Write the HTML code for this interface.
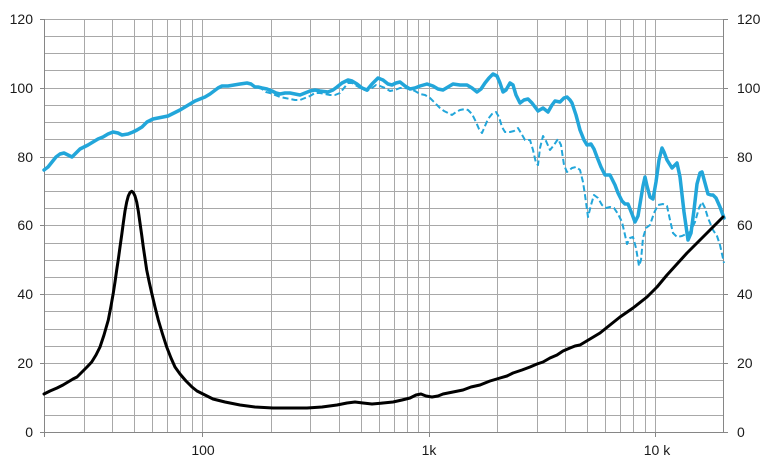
<!DOCTYPE html>
<html><head><meta charset="utf-8"><style>
html,body{margin:0;padding:0;background:#fff;}
svg{display:block;}
text{font-family:"Liberation Sans",Arial,sans-serif;font-size:14px;fill:#1a1a1a;}
</style></head><body>
<svg width="772" height="466" viewBox="0 0 772 466" xmlns="http://www.w3.org/2000/svg">
<g stroke="#a8a8a8" stroke-width="1" fill="none" shape-rendering="crispEdges">
<path d="M44 19.5H724M44 36.5H724M44 53.5H724M44 70.5H724M44 88.5H724M44 105.5H724M44 122.5H724M44 139.5H724M44 157.5H724M44 174.5H724M44 191.5H724M44 208.5H724M44 225.5H724M44 243.5H724M44 260.5H724M44 277.5H724M44 294.5H724M44 311.5H724M44 329.5H724M44 346.5H724M44 363.5H724M44 380.5H724M44 397.5H724M44 415.5H724"/>
<path d="M84.5 19V432M112.5 19V432M134.5 19V432M152.5 19V432M167.5 19V432M180.5 19V432M192.5 19V432M202.5 19V432M271.5 19V432M310.5 19V432M339.5 19V432M361.5 19V432M379.5 19V432M394.5 19V432M407.5 19V432M418.5 19V432M429.5 19V432M497.5 19V432M537.5 19V432M565.5 19V432M587.5 19V432M605.5 19V432M620.5 19V432M633.5 19V432M645.5 19V432M655.5 19V432"/>
</g>
<g stroke="#868686" stroke-width="1" fill="none" shape-rendering="crispEdges">
<path d="M44.5 19V437M723.5 19V432M44 432.5H724"/>
<path d="M40 19.5H44M40 88.5H44M40 157.5H44M40 225.5H44M40 294.5H44M40 363.5H44M40 432.5H44"/>
<path d="M724 19.5H728M724 88.5H728M724 157.5H728M724 225.5H728M724 294.5H728M724 363.5H728M724 432.5H728"/>
<path d="M202.5 432V437M429.5 432V437M655.5 432V437"/>
</g>
<g text-anchor="end">
<text x="33" y="24">120</text>
<text x="33" y="93">100</text>
<text x="33" y="162">80</text>
<text x="33" y="230">60</text>
<text x="33" y="299">40</text>
<text x="33" y="368">20</text>
<text x="33" y="437">0</text>
</g>
<g text-anchor="start">
<text x="737" y="24">120</text>
<text x="737" y="93">100</text>
<text x="737" y="162">80</text>
<text x="737" y="230">60</text>
<text x="737" y="299">40</text>
<text x="737" y="368">20</text>
<text x="737" y="437">0</text>
</g>
<g text-anchor="middle">
<text x="203" y="455">100</text>
<text x="429" y="455">1k</text>
<text x="657" y="455">10 k</text>
</g>
<polyline fill="none" stroke="#22a6da" stroke-width="2" stroke-dasharray="6,3" stroke-linejoin="round" points="258,87 262,89 266,92 270,93 275,95 280,97 285,98 290,99 295,100 300,100 305,98 310,96 315,93 320,93 325,94 330,95 335,95 340,93 344,88 348,83 352,83 357,86 362,89 367,91 372,88 376,85 380,86 385,88 390,91 395,90 400,88 405,88 410,89 415,91 420,94 425,95 430,98 435,103 440,108 444,111 448,113 452,115 456,112 460,110 465,109 468,110 472,114 476,122 479,129 482,133 485,126 488,119 492,114 496,112 499,117 502,127 505,132 510,132 514,131 518,128 521,133 525,140 530,140 533,150 536,163 538,165 540,148 543,136 546,141 550,150 554,145 558,139 561,145 564,165 567,172 572,168 576,167 580,170 583,182 585,195 588,217 591,205 594,195 598,198 602,205 606,208 610,207 614,208 618,214 622,222 625,235 627,244 630,238 633,237 636,248 639,266 641,260 643,238 646,228 650,225 654,213 658,205 663,204 667,206 670,220 673,233 677,237 682,236 686,234 690,232 695,222 699,208 702,202 705,208 708,218 713,230 717,236 720,245 724,263"/>
<polyline fill="none" stroke="#22a6da" stroke-width="3.5" stroke-linejoin="round" stroke-linecap="round" points="44,170 48,167 52,162 56,157 60,154 64,153 68,155 72,157 76,153 80,149 84,147 88,145 93,142 98,139 103,137 108,134 113,132 118,133 122,135 128,134 133,132 137,130 142,127 147,122 153,119 158,118 163,117 168,116 172,114 176,112 180,110 185,107 190,104 195,101 200,99 205,97 210,94 214,91 218,88 222,86 228,86 234,85 240,84 247,83 251,84 255,87 258,87 262,88 267,89 272,91 276,93 280,94 285,93 290,93 295,94 300,95 305,93 310,91 315,90 320,91 328,92 333,90 337,87 342,83 348,80 352,81 357,84 362,88 367,90 372,84 378,78 383,80 388,84 392,85 396,83 400,82 405,86 410,89 415,88 420,86 427,84 433,86 438,89 443,90 448,87 453,84 460,85 467,85 472,88 477,92 481,89 485,83 489,78 493,74 497,76 500,83 503,92 506,90 510,83 513,85 516,95 520,103 524,100 528,99 532,103 538,111 543,108 548,112 552,105 555,101 560,102 564,98 567,97 570,100 572,103 576,115 580,130 584,140 587,145 591,144 594,149 597,157 601,167 605,175 610,175 615,185 618,193 622,201 625,204 628,204 632,214 635,222 638,216 640,204 643,186 645,177 647,186 650,197 653,199 656,182 659,160 662,148 664,152 667,160 672,168 677,163 680,177 684,212 688,240 691,233 694,210 697,184 700,173 702,172 705,183 708,194 711,195 713,195 716,198 720,207 724,218"/>
<polyline fill="none" stroke="#000" stroke-width="3" stroke-linejoin="round" stroke-linecap="round" points="44,394 50,391 57,388 63,385 68,382 73,379 77,377 82,372 87,367 91.7,362 96,355 100,347 104,335 108.3,320 111,306 113.3,293 115,282 116.7,270 118.5,258 120,247 121.7,235 123.3,223 125,211 126.7,202 128.3,196 130,192.5 131.7,191.3 133.3,192.5 135,196 136.7,202 138.3,211 140,223 141.7,235 143.3,247 145,258.5 146.7,270 149.2,282 151.7,293 155,307 158.3,320 162.5,334 166.7,347 171,358 175,367 180,374 186,381 192,387 197,391 203,394 213,399 225,402 240,405 255,407 273,408 290,408 307,408 322,407 337,405 347,403 355,402 363,403 372,404 383,403 393,402 402,400 410,398 416,395 421,394 426,396 432,397 438,396 443,394 453,392 463,390 471,387 480,385 490,381 500,378 507,376 513,373 522,370 530,367 537,364 543,362 550,358 557,355 563,351 570,348 575,346 580,345 590,339 600,333 610,325 620,317 633,308 647,297 657,287 667,275 677,264 687,253 695,245 703,237 712,228 718,222 723,217"/>
</svg>
</body></html>
